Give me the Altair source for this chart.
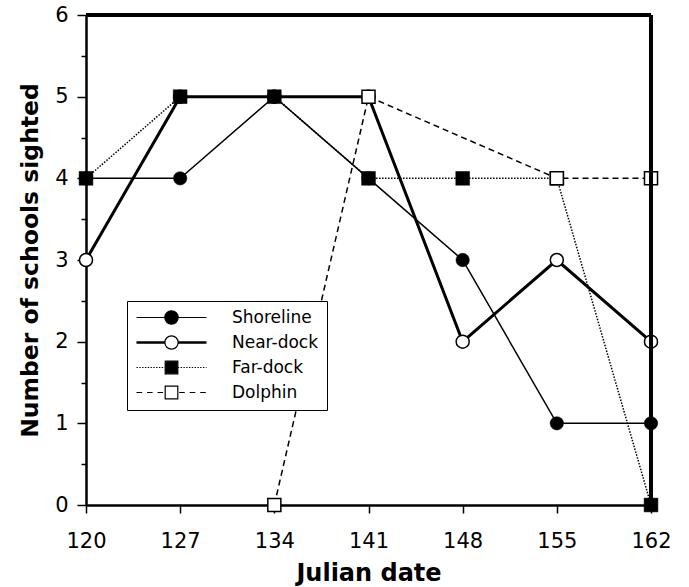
import altair as alt
import pandas as pd

# ---- data ----
dates = [120, 127, 134, 141, 148, 155, 162]
series_names = ["Shoreline", "Near-dock", "Far-dock", "Dolphin"]
shoreline = [4, 4, 5, 4, 3, 1, 1]
near_dock = [3, 5, 5, 5, 2, 3, 2]
far_dock = [4, 5, 5, 4, 4, 4, 0]
dolphin = [None, None, 0, 5, None, 4, 4]
y_ticks = [0, 0.5, 1, 1.5, 2, 2.5, 3, 3.5, 4, 4.5, 5, 5.5, 6]

rows = []
for name, vals in zip(series_names, [shoreline, near_dock, far_dock, dolphin]):
    for d, v in zip(dates, vals):
        if v is not None:
            rows.append({"series": name, "date": d, "value": v})
df = pd.DataFrame(rows)

FONT = "DejaVu Sans"

x = alt.X("date:Q",
          scale=alt.Scale(domain=[120, 162], nice=False, zero=False),
          axis=alt.Axis(values=dates, title="Julian date", grid=False,
                        tickSize=8, tickWidth=1.5, tickColor="black",
                        domainWidth=2.5, domainColor="black",
                        labelFont=FONT, labelFontSize=21, labelColor="black",
                        labelPadding=17, labelFlush=False,
                        titleFont=FONT, titleFontSize=24, titleFontWeight="bold",
                        titleColor="black", titlePadding=10))
y = alt.Y("value:Q",
          scale=alt.Scale(domain=[0, 6], nice=False),
          axis=alt.Axis(values=y_ticks, title="Number of schools sighted", grid=False,
                        labelExpr="datum.value % 1 === 0 ? format(datum.value, 'd') : ''",
                        tickSize={"condition": {"test": "datum.value % 1 === 0", "value": 9}, "value": 5},
                        tickWidth=1.5, tickColor="black",
                        domainWidth=2.5, domainColor="black",
                        labelFont=FONT, labelFontSize=21, labelColor="black",
                        labelPadding=9,
                        titleFont=FONT, titleFontSize=23.5, titleFontWeight="bold",
                        titleColor="black", titlePadding=12))

line_styles = {
    "Shoreline": dict(strokeWidth=1.5),
    "Near-dock": dict(strokeWidth=3),
    "Far-dock": dict(strokeWidth=1.5, strokeDash=[1.5, 1.5]),
    "Dolphin": dict(strokeWidth=1.5, strokeDash=[6, 4]),
}
marker_styles = {
    "Shoreline": dict(shape="circle", filled=True, fill="black", stroke="black", strokeWidth=0.5, size=180),
    "Near-dock": dict(shape="circle", filled=True, fill="white", stroke="black", strokeWidth=1.5, size=170),
    "Far-dock": dict(shape="square", filled=True, fill="black", stroke="black", strokeWidth=0.5, size=190),
    "Dolphin": dict(shape="square", filled=True, fill="white", stroke="black", strokeWidth=1.5, size=170),
}

base = alt.Chart(df)
lines = [
    base.transform_filter(alt.datum.series == n)
        .mark_line(color="black", **line_styles[n])
        .encode(x=x, y=y, order="date:Q")
    for n in series_names
]
markers = [
    base.transform_filter(alt.datum.series == n)
        .mark_point(opacity=1, **marker_styles[n])
        .encode(x=x, y=y)
    for n in series_names
]

# ---- legend symbols: line + marker drawn as custom symbol paths ----
def circle(cx, r):
    return (f"M{cx - r},0A{r},{r} 0 1,0 {cx + r},0A{r},{r} 0 1,0 {cx - r},0Z")

def square(cx, h):
    return f"M{cx - h},{-h}H{cx + h}V{h}H{cx - h}Z"

def seg_line(a, b, dy=0.0):
    return f"M{a},{dy}H{b}"

def dashed(a, b, on, off):
    parts = []
    p = a
    while p < b:
        q = min(p + on, b)
        parts.append(f"M{p:.3f},0H{q:.3f}")
        p = q + off
    return "".join(parts)

L0, L1, MC = -1.0, 9.0, 4.0
R = 0.95
paths = [
    seg_line(L0, MC - R) + seg_line(MC + R, L1) + circle(MC, R),
    seg_line(L0, MC - R, -0.1) + seg_line(L0, MC - R, 0.1)
    + seg_line(MC + R, L1, -0.1) + seg_line(MC + R, L1, 0.1) + circle(MC, R),
    dashed(L0, MC - 0.9, 0.2, 0.2) + dashed(MC + 0.9, L1, 0.2, 0.2) + square(MC, 0.9),
    dashed(L0, MC - 0.9, 0.8, 0.7) + dashed(MC + 1.1, L1, 0.8, 0.7) + square(MC, 0.9),
]
fills = ["black", "white", "black", "white"]
strokes = ["black", "black", "black", "black"]

leg = alt.Legend(orient="none", legendX=41, legendY=286, title=None,
                 symbolSize=196, symbolStrokeWidth=1.2, symbolStrokeColor="black",
                 labelFont=FONT, labelFontSize=17, labelColor="black",
                 labelOffset=80, padding=8, rowPadding=6,
                 strokeColor="black", fillColor="white")

legend_layer = (
    base.transform_filter("datum.value < 0")
    .mark_point(filled=True, stroke="black", strokeWidth=1.2, opacity=1)
    .encode(
        x=x, y=y,
        shape=alt.Shape("series:N", scale=alt.Scale(domain=series_names, range=paths), legend=leg),
        fill=alt.Fill("series:N", scale=alt.Scale(domain=series_names, range=fills), legend=leg),
        stroke=alt.Stroke("series:N", scale=alt.Scale(domain=series_names, range=strokes), legend=leg),
    )
)

frame_right = alt.Chart(df).mark_rule(color="black", strokeWidth=2.5).encode(x=alt.datum(162))
frame_top = alt.Chart(df).mark_rule(color="black", strokeWidth=2.5).encode(y=alt.datum(6))

chart = (
    alt.layer(*lines, *markers, frame_right, frame_top, legend_layer)
    .properties(width=565, height=490,
                autosize=alt.AutoSizeParams(type="none"),
                padding={"left": 86, "top": 15, "right": 38, "bottom": 82})
    .configure_view(stroke=None)
    .configure_legend(strokeWidth=2)
    .configure(background="white")
)

chart.save("out.html", embed_options={"renderer": "svg", "actions": False})
